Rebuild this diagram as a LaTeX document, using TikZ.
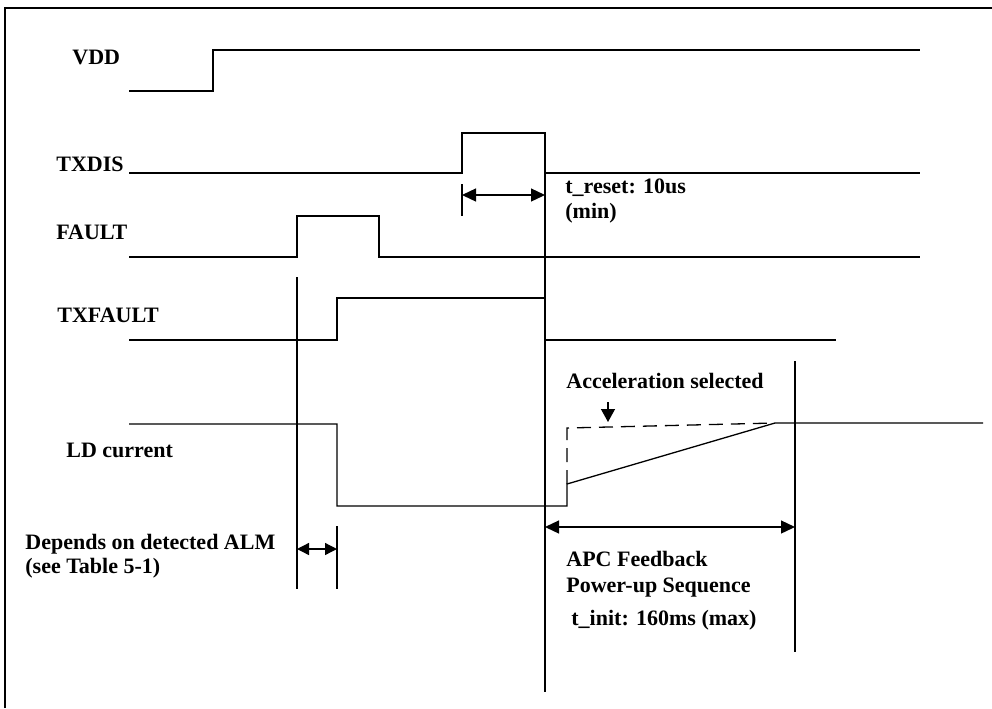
\documentclass[tikz,border=0pt]{standalone}
\usepackage{fontspec}
\setmainfont{Liberation Serif}
\usetikzlibrary{arrows.meta}
\begin{document}
\begin{tikzpicture}[x=0.5pt,y=-0.5pt,
    sig/.style={line width=0.65pt},
    lbl/.style={anchor=base west,inner sep=0pt,font=\fontsize{11}{13}\selectfont\bfseries},
    dimarrow/.style={line width=0.65pt,{Triangle[length=7pt,width=6.5pt]}-{Triangle[length=7pt,width=6.5pt]}}]
    \useasboundingbox (0,0) rectangle (992,708);
    \draw[line width=0.8pt] (5,708) -- (5,8) -- (992,8);
    % waveforms
    \draw[sig] (129,91) -- (213,91) -- (213,50) -- (920,50);
    \draw[sig] (129,173) -- (462,173) -- (462,133) -- (545,133) -- (545,173) -- (920,173);
    \draw[sig] (129,257) -- (297,257) -- (297,216) -- (379,216) -- (379,257) -- (920,257);
    \draw[sig] (129,340) -- (337,340) -- (337,298) -- (545,298) -- (545,340) -- (836,340);
    \draw[sig] (129,424) -- (337,424) -- (337,506) -- (567,506) -- (567,484) -- (775,423) -- (983,423);
    \draw[sig,dash pattern=on 7pt off 4pt] (567,484) -- (567,428) -- (775,423);
    % time markers
    \draw[sig] (545,133) -- (545,692);
    \draw[sig] (297,277) -- (297,589);
    \draw[sig] (337,526) -- (337,589);
    \draw[sig] (462,184) -- (462,216);
    \draw[sig] (795,361) -- (795,652);
    \coordinate (rstA) at (462,195);
    \coordinate (rstB) at (545,195);
    \coordinate (almA) at (297,549);
    \coordinate (almB) at (337,549);
    \coordinate (apcA) at (545,527);
    \coordinate (apcB) at (795,527);
    \draw[dimarrow] (rstA) -- (rstB);
    \draw[dimarrow,{Triangle[length=6pt,width=6pt]}-{Triangle[length=6pt,width=6pt]}] (almA) -- (almB);
    \draw[dimarrow] (apcA) -- (apcB);
    \coordinate (accTop) at (608,402);
    \coordinate (accTip) at (608,422);
    \draw[sig,-{Triangle[length=6.5pt,width=7pt]}] (accTop) -- (accTip);
    % labels
    \node[lbl] (vdd) at (72,64) {VDD};
    \node[lbl] (txdis) at (56,171) {TXDIS};
    \node[lbl] (fault) at (56,239) {FAULT};
    \node[lbl] (txfault) at (57,322) {TXFAULT};
    \node[lbl] (ldcur) at (66,457) {LD current};
    \node[lbl] (reset) at (565,193) {t\_reset: 10us};
    \node[lbl] (resetmin) at (565,218) {(min)};
    \node[lbl] (accel) at (566,388) {Acceleration selected};
    \node[lbl] (depends) at (25,549) {Depends on detected ALM};
    \node[lbl] (seetab) at (25,573) {(see Table 5-1)};
    \node[lbl] (apc) at (566,566) {APC Feedback};
    \node[lbl] (powerup) at (566,592) {Power-up Sequence};
    \node[lbl] (tinit) at (571,625) {t\_init: 160ms (max)};
\end{tikzpicture}
\end{document}
